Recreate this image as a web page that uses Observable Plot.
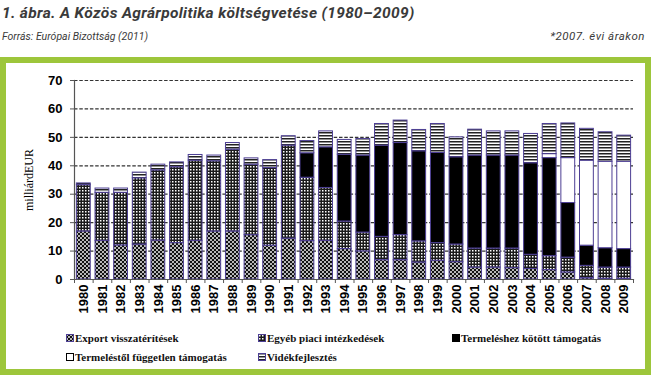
<!DOCTYPE html>
<html><head><meta charset="utf-8">
<script src="https://cdn.jsdelivr.net/npm/d3@7"></script>
<script src="https://cdn.jsdelivr.net/npm/@observablehq/plot@0.6"></script>
<style>
body{margin:0;background:#fff;}
#wrap{position:relative;width:651px;height:375px;overflow:hidden;background:#fff;}
#title{position:absolute;left:2px;top:4px;font:italic bold 15.5px Roboto;letter-spacing:0.35px;color:#3a3a3a;white-space:nowrap;}
#sub{position:absolute;left:2px;top:30px;font:italic 10.5px Roboto;color:#3a3a3a;white-space:nowrap;}
#note{position:absolute;right:6px;top:29px;font:italic 11.5px Roboto;letter-spacing:0.5px;color:#3a3a3a;white-space:nowrap;}
#frame{position:absolute;left:0;top:57px;width:651px;height:318px;box-sizing:border-box;border:6px solid #9dc63b;pointer-events:none;}
#chart{position:absolute;left:0;top:57px;}
.leg{position:absolute;font:bold 11px "Liberation Serif";color:#111;white-space:nowrap;display:flex;align-items:center;}
.leg svg{margin-right:1px;}
</style></head>
<body>
<svg width="0" height="0" style="position:absolute">
 <defs>
  <pattern id="pExport" width="4" height="4" patternUnits="userSpaceOnUse">
   <rect width="4" height="4" fill="#111"/>
   <circle cx="1" cy="1" r="0.95" fill="#fff"/>
   <circle cx="3" cy="3" r="0.95" fill="#fff"/>
  </pattern>
  <pattern id="pEgyeb" width="3" height="3" patternUnits="userSpaceOnUse">
   <rect width="3" height="3" fill="#1a1a1a"/>
   <rect x="1" y="1" width="1.5" height="1.5" fill="#fff"/>
  </pattern>
  <pattern id="pVidek" width="3" height="3" patternUnits="userSpaceOnUse">
   <rect width="3" height="3" fill="#fff"/>
   <rect y="0" width="3" height="1.5" fill="#222"/>
  </pattern>
 </defs>
</svg>
<div id="wrap">
 <div id="title">1. ábra. A Közös Agrárpolitika költségvetése (1980–2009)</div>
 <div id="sub">Forrás: Európai Bizottság (2011)</div>
 <div id="note">*2007. évi árakon</div>
 <div id="chart"></div>
 <div id="frame"></div>
 <div id="legend"></div>
</div>
<script>
const years = [1980,1981,1982,1983,1984,1985,1986,1987,1988,1989,1990,1991,1992,1993,1994,1995,1996,1997,1998,1999,2000,2001,2002,2003,2004,2005,2006,2007,2008,2009];
const seriesNames = ["Export visszatérítések","Egyéb piaci intézkedések","Termeléshez kötött támogatás","Termeléstől független támogatás","Vidékfejlesztés"];
const exportVals = [16.9,13.6,12.0,12.3,13.7,12.8,13.6,16.9,16.9,15.6,11.9,14.4,13.5,13.6,10.7,9.9,6.8,6.8,6.0,6.6,6.1,4.2,4.2,4.0,3.7,3.3,2.5,0.5,0.3,0.3];
const egyebVals = [16.3,16.9,18.5,23.3,24.7,26.7,28.2,24.7,28.8,24.8,27.3,32.7,22.3,18.6,9.7,6.6,8.2,8.8,7.4,6.2,6.2,6.7,6.7,6.9,5.0,4.9,5.2,4.3,3.9,3.9];
const kotottVals = [0,0,0,0,0,0,0,0,0,0,0,0,8.6,14.3,23.5,27.1,32.1,32.4,31.7,31.7,30.7,32.7,32.7,32.7,32.2,34.5,19.2,7.1,6.8,6.5];
const fuggetlenVals = [0,0,0,0,0,0,0,0,0,0,0,0,0,0,0,0,0,0,0,0,0,0,0,0,0,1.4,15.8,29.9,30.4,30.7];
const videkVals = [0.6,1.5,1.5,2.0,2.0,1.7,2.0,2.0,2.3,2.2,2.8,3.3,4.3,5.6,5.2,5.8,7.6,7.9,7.5,10.2,7.0,9.1,8.5,8.5,10.3,10.6,12.2,11.2,10.4,9.2];
const yTicks = [0,10,20,30,40,50,60,70];
const fills = ["url(#pExport)","url(#pEgyeb)","#000","#fff","url(#pVidek)"];

const allVals = [exportVals, egyebVals, kotottVals, fuggetlenVals, videkVals];
const rows = [];
years.forEach((yr, i) => {
  let cum = 0;
  seriesNames.forEach((s, k) => {
    const v = allVals[k][i];
    if (v > 0) rows.push({year: yr, series: s, y1: cum, y2: cum + v});
    cum += v;
  });
});
const bounds = years.map(y => y - 0.5).concat([years[years.length-1] + 0.5]);

const chart = Plot.plot({
  width: 651, height: 262,
  marginLeft: 74, marginRight: 18, marginTop: 23, marginBottom: 40,
  style: {background: "transparent", fontFamily: "Liberation Sans"},
  x: {type: "linear", domain: [bounds[0], bounds[bounds.length-1]]},
  y: {domain: [0, 70]},
  color: {domain: seriesNames, range: fills},
  marks: [
    Plot.ruleY(yTicks.filter(d => d > 0), {stroke: "#333", strokeWidth: 1.2, strokeDasharray: "3.5,1.8"}),
    Plot.rect(rows, {x1: d => d.year - 0.5, x2: d => d.year + 0.5, y1: "y1", y2: "y2", fill: "series",
      stroke: "#4d3f94", strokeWidth: 1, insetLeft: 2.4, insetRight: 2.4}),
    Plot.frame({anchor: "left", stroke: "#555", strokeWidth: 1.2}),
    Plot.frame({anchor: "bottom", stroke: "#555", strokeWidth: 1.2}),
    Plot.axisY({ticks: yTicks, tickSize: 4, tickPadding: 8, fontSize: 13, fontWeight: "bold",
      label: "milliárdEUR", labelAnchor: "center", labelArrow: "none", labelOffset: 50, stroke: "#555"}),
    Plot.axisX({ticks: years, tickFormat: d => String(d), tickSize: 0, tickPadding: 5, tickRotate: -90,
      fontSize: 13, fontWeight: "bold", label: null}),
    Plot.axisX({ticks: bounds, tickFormat: () => "", tickSize: 4, label: null, stroke: "#555"})
  ]
});
document.getElementById("chart").appendChild(chart);
d3.select(chart).selectAll('[aria-label="y-axis label"] text')
  .style("font-family", "Liberation Serif").style("font-weight", "normal").style("font-size", "12px");

const legendItems = [
  {i: 0, left: 66, top: 332},
  {i: 1, left: 258, top: 332},
  {i: 2, left: 452, top: 332},
  {i: 3, left: 66, top: 351},
  {i: 4, left: 258, top: 351}
];
const legend = document.getElementById("legend");
legendItems.forEach(it => {
  const d = document.createElement("div");
  d.className = "leg";
  d.style.left = it.left + "px";
  d.style.top = it.top + "px";
  const stroke = it.i === 2 || it.i === 3 ? "#000" : "#4d3f94";
  d.innerHTML = `<svg width="8" height="8"><rect x="0.5" y="0.5" width="7" height="7" fill="${fills[it.i]}" stroke="${stroke}" stroke-width="1"/></svg><span>${seriesNames[it.i]}</span>`;
  legend.appendChild(d);
});
</script>
</body></html>
